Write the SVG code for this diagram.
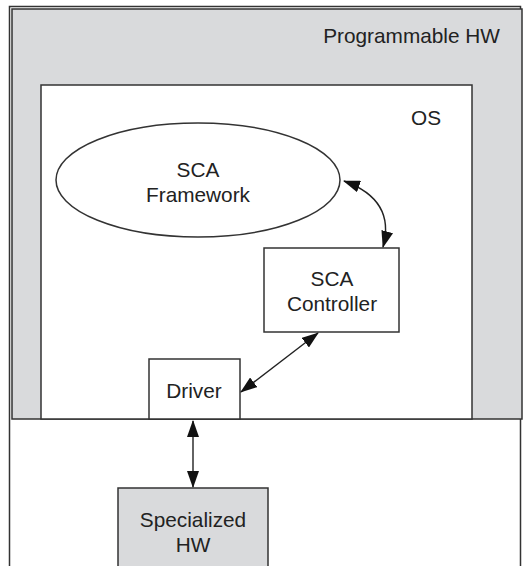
<svg xmlns="http://www.w3.org/2000/svg" width="525" height="566" viewBox="0 0 525 566">
<style>
.box{stroke:#333;stroke-width:1.5}
.w{fill:#fff}
.g{fill:#d9dadc}
.t{font-family:"Liberation Sans",Arial,sans-serif;font-size:20.8px;fill:#222;text-anchor:middle}
.c{fill:none;stroke:#222;stroke-width:1.4}
</style>
<defs>
<marker id="ah" viewBox="0 0 17 12" refX="16" refY="6" markerWidth="17" markerHeight="12" markerUnits="userSpaceOnUse" orient="auto-start-reverse">
<path d="M0,0 L17,6 L0,12 z" fill="#111"/>
</marker>
</defs>
<rect width="525" height="566" fill="#fff"/>
<g id="frame">
<rect class="box w" x="9.5" y="6.5" width="511" height="580"/>
</g>
<g id="programmable-hw">
<rect class="box g" x="12" y="9" width="510" height="410"/>
<text class="t" x="500" y="43" style="text-anchor:end">Programmable HW</text>
</g>
<g id="os">
<rect class="box w" x="41" y="85" width="431" height="334"/>
<text class="t" x="426" y="125">OS</text>
</g>
<g id="sca-framework">
<ellipse class="box w" cx="198" cy="180" rx="142" ry="57"/>
<text class="t" x="198" y="177">SCA</text>
<text class="t" x="198" y="202">Framework</text>
</g>
<g id="sca-controller">
<rect class="box w" x="264" y="248" width="135" height="84"/>
<text class="t" x="332" y="286">SCA</text>
<text class="t" x="332" y="311">Controller</text>
</g>
<g id="driver">
<rect class="box w" x="149" y="359" width="91" height="60"/>
<text class="t" x="194" y="398">Driver</text>
</g>
<g id="specialized-hw">
<rect class="box g" x="118" y="488" width="150" height="100"/>
<text class="t" x="193" y="527">Specialized</text>
<text class="t" x="193" y="552">HW</text>
</g>
<g id="connectors">
<path class="c" d="M344,181 Q396,200 383,247" marker-start="url(#ah)" marker-end="url(#ah)"/>
<path class="c" d="M241,392 L318,333" marker-start="url(#ah)" marker-end="url(#ah)"/>
<path class="c" d="M193,421 L193,487" marker-start="url(#ah)" marker-end="url(#ah)"/>
</g>
</svg>
